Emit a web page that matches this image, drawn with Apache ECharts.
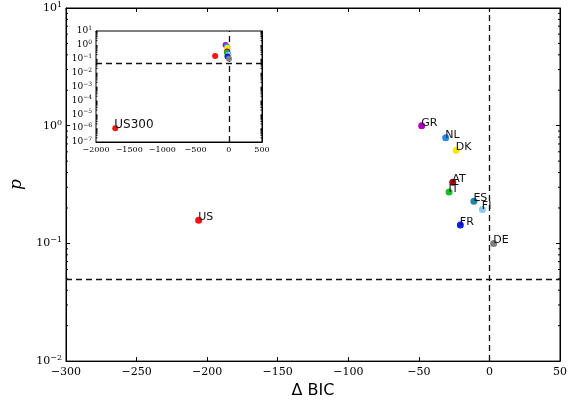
<!DOCTYPE html>
<html>
<head>
<meta charset="utf-8">
<script src="https://cdn.jsdelivr.net/npm/echarts@6/dist/echarts.min.js"></script>
<style>
  html, body { margin: 0; padding: 0; background: #fff; }
  #chart { width: 570px; height: 404px; }
</style>
</head>
<body>
<div id="chart"></div>
<script>
// data
const countries = ['US', 'GR', 'NL', 'DK', 'AT', 'IT', 'ES', 'FI', 'FR', 'DE'];
const deltaBic = [-206, -48, -31, -23.5, -26, -28.6, -11, -5, -20.6, 3];
const pValues = [0.157, 1.0, 0.79, 0.62, 0.33, 0.274, 0.228, 0.194, 0.143, 0.10];
const pointColors = ['#ff1010', '#b000c0', '#2a88f0', '#f5e800', '#a00d0d', '#14c020', '#1e86a8', '#88c8f2', '#1020e0', '#808080'];

const extraName = 'US300';
const extraBic = -1710;
const extraP = 1e-6;
const extraColor = '#ff1010';

const pThreshold = 0.05;
const bicThreshold = 0;

const mainXTicks = [-300, 50, 50];     // min, max, step
const mainYRange = [0.01, 10];
const insetXTicks = [-2000, 500, 500];
const insetYRange = [1e-7, 10];

// minor tick positions on the log axes (2..9 per decade)
function minorValues(lo, hi) {
  const out = [];
  for (let e = Math.round(Math.log10(lo)); e < Math.round(Math.log10(hi)); e++) {
    for (let m = 2; m <= 9; m++) out.push(m * Math.pow(10, e));
  }
  return out;
}

const chart = echarts.init(document.getElementById('chart'));

const serif = 'DejaVu Serif';
const sans = 'DejaVu Sans';

function minus(v) {
  return String(v).replace('-', '\u2212');
}
function logLabel(v) {
  const e = Math.round(Math.log10(v));
  return '{b|10}{s|' + minus(e) + '}';
}
function logRich(size) {
  return {
    b: { fontFamily: serif, fontSize: size, color: '#000' },
    s: { fontFamily: serif, fontSize: Math.round(size * 0.7), color: '#000', verticalAlign: 'top', padding: [0, 0, size * 0.55, 0] }
  };
}

function xAxisCfg(gridIndex, range, pos, showLabel, fontSize, tickLen, margin) {
  return {
    type: 'value', gridIndex: gridIndex, position: pos,
    min: range[0], max: range[1], interval: range[2],
    axisLine: { show: true, onZero: false, lineStyle: { color: '#000', width: 1 } },
    axisTick: { show: true, inside: true, length: tickLen, lineStyle: { color: '#000' } },
    axisLabel: {
      show: showLabel, fontFamily: serif, fontSize: fontSize, color: '#000', margin: margin,
      formatter: v => minus(v)
    },
    splitLine: { show: false }
  };
}
function yAxisCfg(gridIndex, range, pos, showLabel, fontSize, tickLen) {
  return {
    type: 'log', logBase: 10, gridIndex: gridIndex, position: pos,
    min: range[0], max: range[1], interval: 1,
    axisLine: { show: true, onZero: false, lineStyle: { color: '#000', width: 1 } },
    axisTick: { show: true, inside: true, length: tickLen, lineStyle: { color: '#000' } },
    axisLabel: {
      show: showLabel, fontSize: fontSize, margin: 4, color: '#000',
      formatter: logLabel, rich: logRich(fontSize)
    },
    splitLine: { show: false }
  };
}

const xAxes = [
  Object.assign(xAxisCfg(0, mainXTicks, 'bottom', true, 11, 4, 6), {
    name: '\u0394 BIC', nameLocation: 'middle', nameGap: 21,
    nameTextStyle: { fontFamily: sans, fontSize: 16, color: '#000' }
  }),
  xAxisCfg(0, mainXTicks, 'top', false, 11, 4, 6),
  xAxisCfg(1, insetXTicks, 'bottom', true, 8, 3, 4),
  xAxisCfg(1, insetXTicks, 'top', false, 8, 3, 4)
];
const yAxes = [
  Object.assign(yAxisCfg(0, mainYRange, 'left', true, 11, 4), {
    name: 'p', nameLocation: 'middle', nameGap: 41, nameRotate: 90,
    nameTextStyle: { fontFamily: serif, fontStyle: 'italic', fontSize: 17, color: '#000' }
  }),
  yAxisCfg(0, mainYRange, 'right', false, 11, 4),
  yAxisCfg(1, insetYRange, 'left', true, 9, 3),
  yAxisCfg(1, insetYRange, 'right', false, 9, 3)
];

function minorTickSeries(xi, yi, xr, yr, len) {
  return {
    type: 'custom', xAxisIndex: xi, yAxisIndex: yi, clip: false, silent: true, z: 3,
    data: minorValues(yr[0], yr[1]).map(v => [xr[0], v]),
    renderItem: function (params, api) {
      const v = api.value(1);
      const l = api.coord([xr[0], v]);
      const r = api.coord([xr[1], v]);
      const st = { stroke: '#000', lineWidth: 1 };
      return {
        type: 'group',
        children: [
          { type: 'line', shape: { x1: l[0], y1: l[1], x2: l[0] + len, y2: l[1] }, style: st },
          { type: 'line', shape: { x1: r[0], y1: r[1], x2: r[0] - len, y2: r[1] }, style: st }
        ]
      };
    }
  };
}

const dashStyle = { color: '#111', type: [6, 4], width: 1.3 };

function pointData(labels) {
  return countries.map((c, i) => ({
    name: c,
    value: [deltaBic[i], pValues[i]],
    itemStyle: { color: pointColors[i], opacity: 1 },
    label: { show: labels }
  }));
}

const pointLabel = {
  position: 'right', distance: -4, offset: [0, -3],
  formatter: '{b}', fontFamily: sans, fontSize: 11, color: '#111'
};

const option = {
  backgroundColor: '#fff',
  animation: false,
  grid: [
    { left: 42, right: 7, top: 8, bottom: 42, show: true, borderColor: '#000', borderWidth: 1, backgroundColor: '#fff' },
    { left: 96, width: 166, top: 31, height: 111, show: true, borderColor: '#000', borderWidth: 1, backgroundColor: '#fff', z: 5 }
  ],
  xAxis: xAxes,
  yAxis: yAxes,
  series: [
    {
      type: 'scatter', xAxisIndex: 0, yAxisIndex: 0, symbolSize: 7, z: 4,
      itemStyle: { opacity: 1 },
      data: pointData(true),
      label: pointLabel,
      markLine: {
        silent: true, symbol: 'none', label: { show: false },
        lineStyle: dashStyle,
        data: [{ xAxis: bicThreshold }, { yAxis: pThreshold }]
      }
    },
    minorTickSeries(0, 0, [mainXTicks[0], mainXTicks[1]], mainYRange, 2),
    {
      type: 'scatter', xAxisIndex: 2, yAxisIndex: 2, symbolSize: 6, z: 6,
      itemStyle: { opacity: 1 },
      data: pointData(false).concat([{
        name: extraName, value: [extraBic, extraP],
        itemStyle: { color: extraColor, opacity: 1 },
        label: { show: true }
      }]),
      label: Object.assign({}, pointLabel, { fontSize: 12 }),
      markLine: {
        silent: true, symbol: 'none', label: { show: false },
        lineStyle: dashStyle,
        data: [{ xAxis: bicThreshold }, { yAxis: pThreshold }]
      }
    },
    Object.assign(minorTickSeries(2, 2, [insetXTicks[0], insetXTicks[1]], insetYRange, 1.5), { z: 6 })
  ]
};

chart.setOption(option);
</script>
</body>
</html>
